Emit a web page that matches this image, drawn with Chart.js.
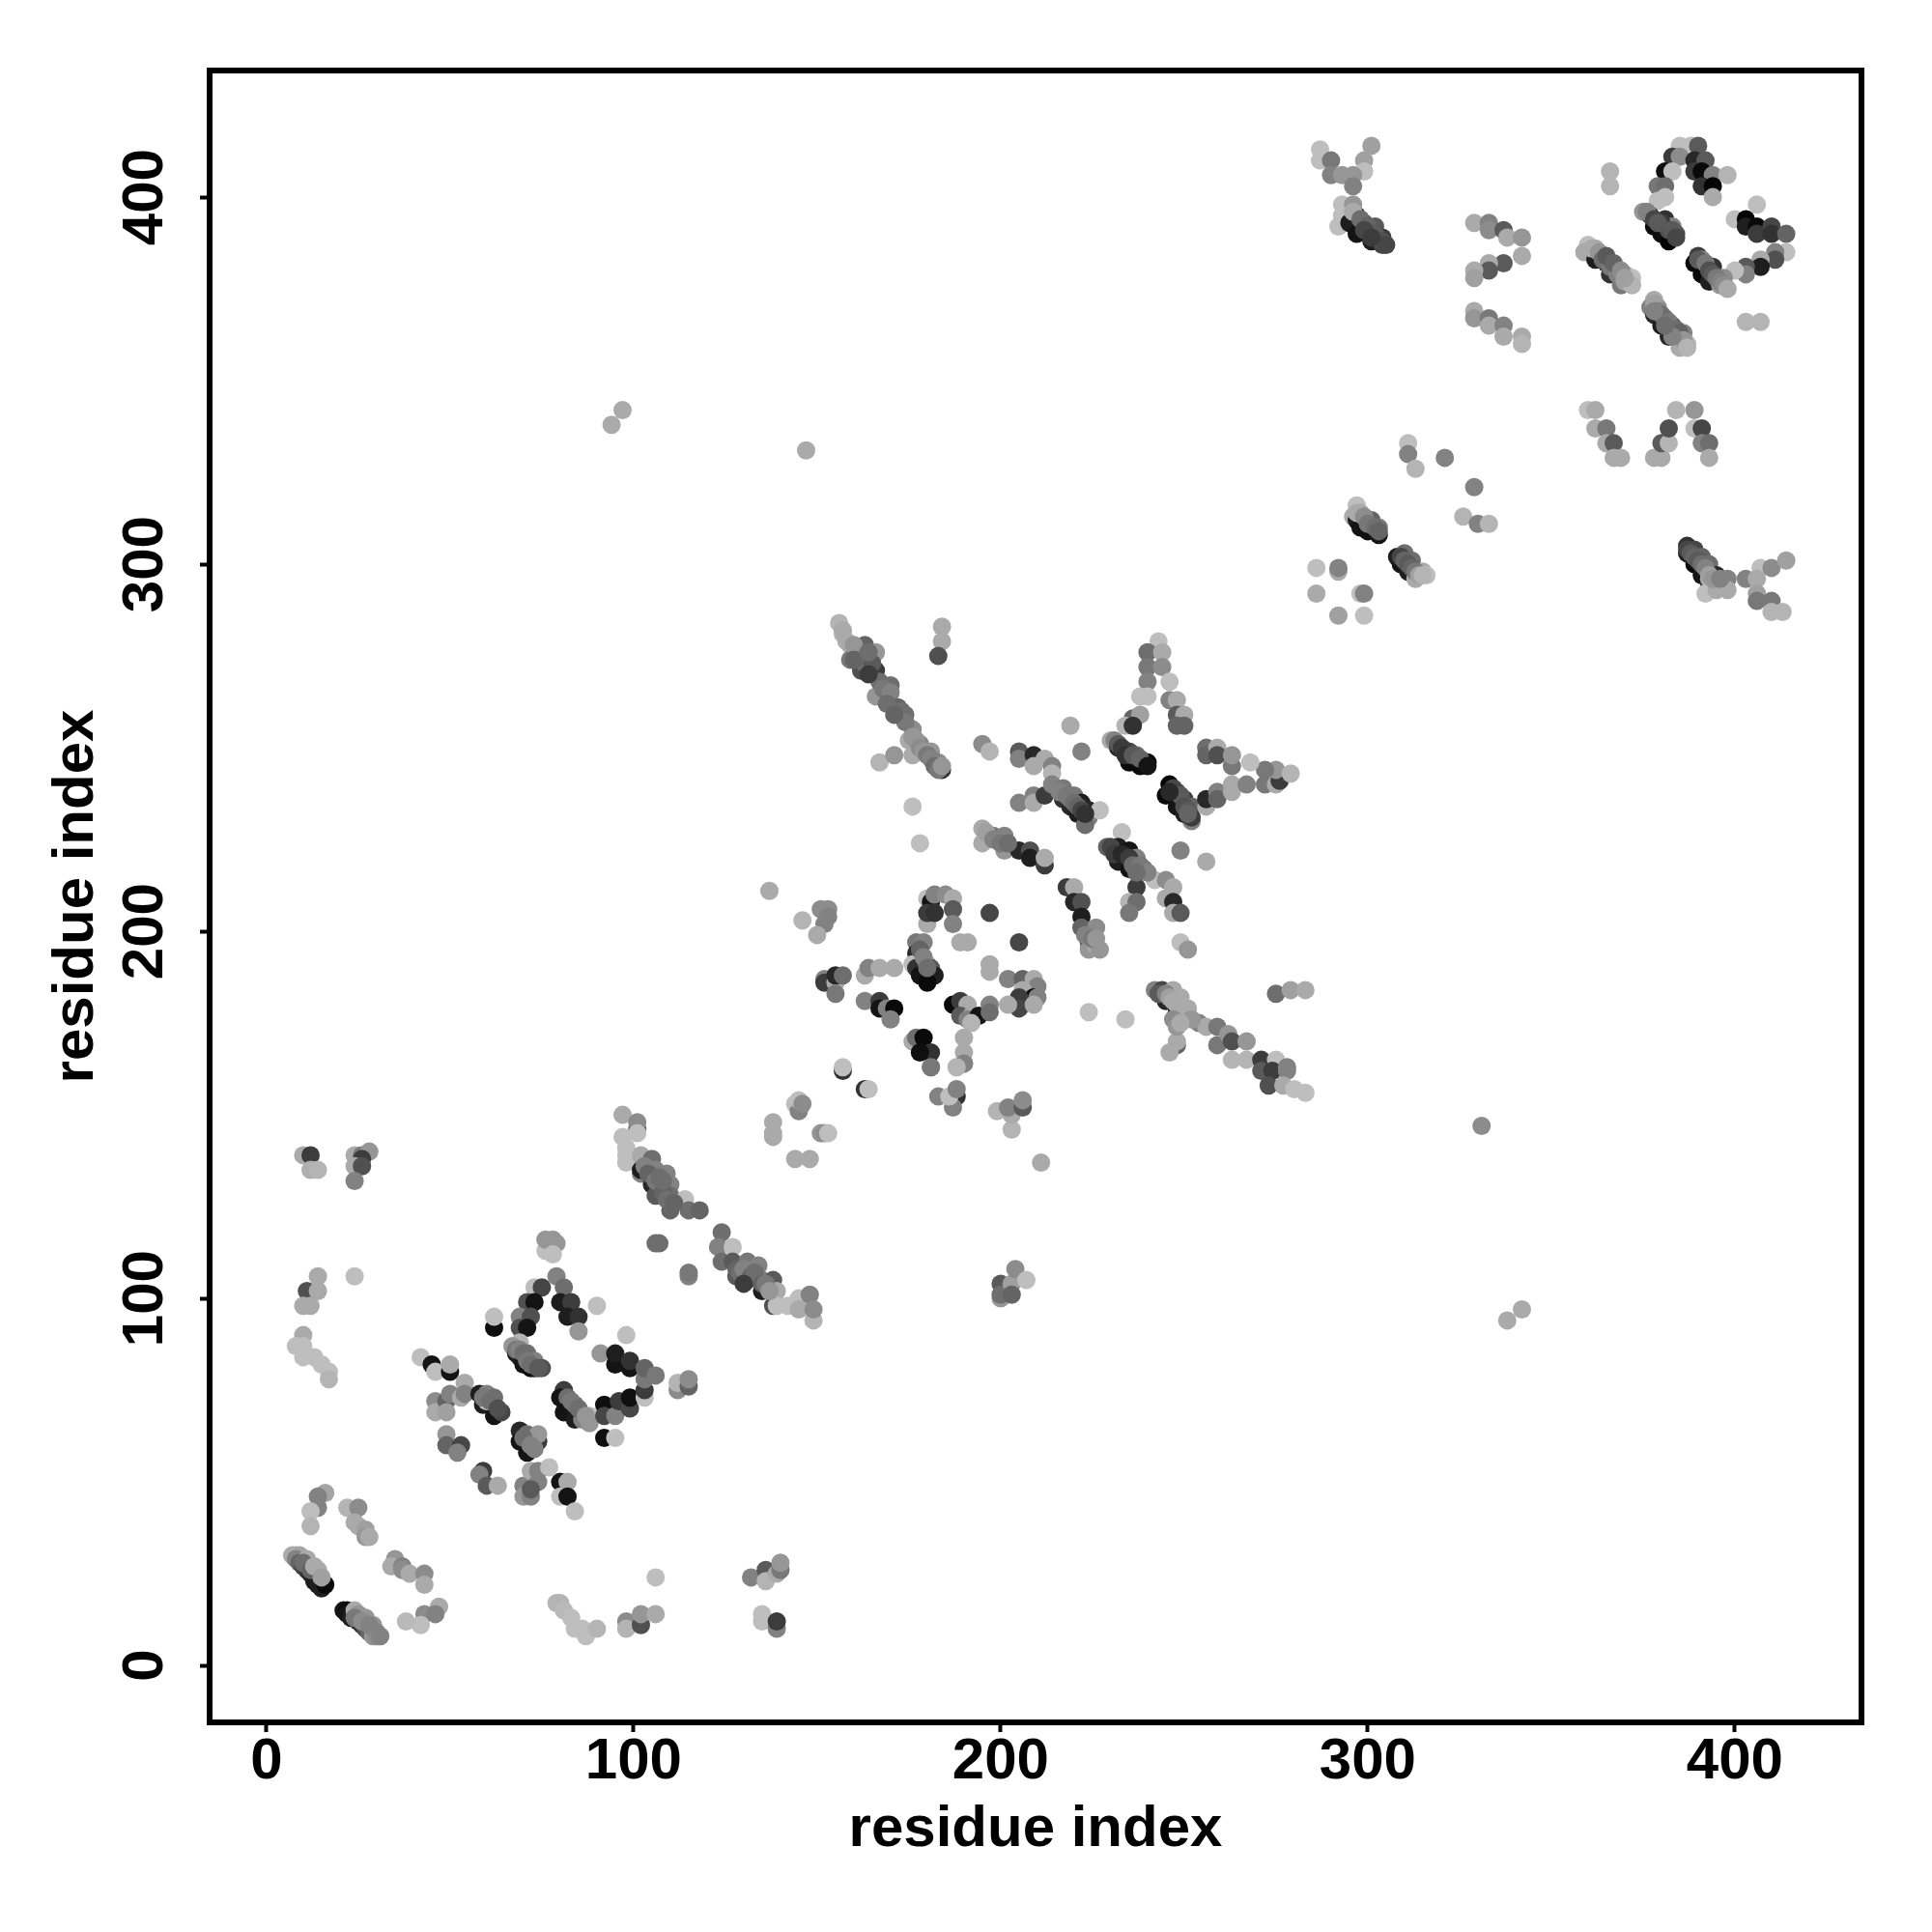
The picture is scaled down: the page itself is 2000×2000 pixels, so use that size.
<!DOCTYPE html>
<html><head><meta charset="utf-8">
<style>html,body{margin:0;padding:0;background:#fff}canvas{display:block}</style>
<script src="https://cdn.jsdelivr.net/npm/chart.js@4"></script></head>
<body><canvas id="c" width="2000" height="2000"></canvas>
<script>
// Each region lists readings as x, y, grey level
const tickValues=[0,100,200,300,400];
const axisLabel="residue index";
const nearOrigin=[7,30,170,8,30,170,9,30,165,8,29,130,9,28,100,10,27,70,11,26,60,12,25,40,13,23,30,14,22,30,15,21,30,11,29,170,14,26,170,16,22,10,
21,15,20,22,15,10,22,14,20,23,13,30,25,12,30,26,11,50,27,10,80,24,15,170,25,14,150,27,13,150,28,9,100,29,11,150,29,8,150,30,9,130,30,8,140,31,8,130];
const hairpinLow=[16,47,165,14,46,130,14,43,130,12,42,190,12,38,180,22,43,180,25,43,140,24,39,170,25,38,170,27,37,160,27,35,150,28,35,170,
35,29,150,34,27,170,37,27,130,37,26,140,39,25,170,43,25,140,43,22,170,47,16,170,43,14,140,46,14,130,42,11,190,38,12,185];
const farLow=[79,17,180,80,17,180,81,15,185,83,13,190,84,10,190,86,10,190,87,8,190,90,10,180,98,12,140,98,10,180,102,11,80,102,14,150,106,14,170,106,24,190,
132,24,130,136,26,90,136,23,180,139,25,170,140,26,120,140,28,150,135,14,190,135,12,190,139,10,130,139,12,60];
const topLeftPairs=[10,139,170,12,139,60,12,135,175,14,135,180,24,139,170,26,139,120,28,140,150,26,138,60,24,136,170,26,136,80,24,132,130,
14,106,170,24,106,190,11,102,80,14,102,170,10,98,170,12,98,170,10,90,170,8,87,190,10,87,190,10,84,190,13,84,190,15,82,190,17,80,190,17,78,180];
const squareTop=[76,113,190,76,116,150,78,116,150,79,115,150,78,112,190,79,106,130,81,103,110,73,103,190,75,103,70,80,99,30,83,99,60,82,95,30,85,95,50,85,91,150,90,98,190,98,90,190,
71,99,80,73,99,20,69,95,130,72,95,80,69,92,80,71,92,20,62,92,15,62,95,190,69,88,180];
const squareMid=[67,87,150,68,85,30,69,84,30,70,82,20,72,81,10,73,81,20,71,85,110,73,83,130,75,81,80,
42,84,190,45,82,20,46,80,190,50,80,20,50,82,170,46,72,140,46,69,170,49,72,100,49,69,160,50,74,130,53,73,170,54,77,170,54,74,130,
58,74,30,60,74,130,59,71,30,62,73,110,62,68,20,64,69,70,60,72,190];
const squareLow=[49,63,150,49,60,100,53,60,70,52,58,130,69,64,40,71,63,110,69,61,20,71,58,20,74,61,60,74,63,150,72,60,170,
59,53,60,58,52,130,60,49,90,63,49,170,70,49,130,72,53,170,74,53,130,77,54,190,74,50,130,70,46,150,72,46,130,72,48,90,80,50,20,82,50,170,80,46,190,82,46,20,84,42,190];
const squareRight=[81,75,60,80,73,20,82,73,110,81,69,20,84,71,110,84,67,30,86,67,130,88,68,190,88,66,150,92,71,15,92,68,70,95,68,130,96,72,60,99,70,70,99,73,15,103,73,190,103,75,60,92,62,15,95,62,190,
91,85,150,95,82,20,95,85,30,99,81,20,99,83,50,103,78,120,103,81,100,106,79,120,112,75,140,112,77,180,115,76,100,115,78,140];
const bandUpper=[97,150,170,101,146,100,101,148,140,97,144,190,101,145,190,98,141,190,98,139,190,98,137,190,102,139,170,102,134,130,102,135,30,105,138,110,106,135,130,105,131,40,107,131,20,106,128,90,109,134,130,110,131,130,110,128,110,114,127,190,110,124,100,115,124,110,118,124,100,
106,115,110,107,115,110,115,106,130,115,107,120];
const bandLower=[124,118,110,123,114,130,127,114,190,124,110,110,128,106,90,127,110,90,131,105,50,131,110,120,134,109,130,135,102,30,135,105,130,138,105,90,138,98,80,139,102,170,139,98,190,142,98,190,145,100,190,145,97,170,148,101,130,149,94,180,149,97,140,
200,100,150,200,104,90,200,101,110,203,104,160,203,101,100,204,108,140,207,105,190,211,137,170];
const sideClusterA=[138,148,170,138,145,170,138,144,170,144,153,190,145,151,130,145,154,190,146,153,140,144,138,170,148,138,170,151,145,150,152,145,140,153,145,190,157,162,50,157,163,190,163,157,50,164,157,190,137,211,170,
181,163,130,183,155,130,188,155,50,187,152,130,186,155,190,188,157,130,188,163,190,190,164,130,199,151,180,203,146,180,203,150,170,202,152,130,206,152,90,206,154,140];
const starLeft=[146,203,180,151,206,140,153,206,140,153,204,130,152,202,130,150,199,170,152,187,130,152,186,60,155,186,170,155,188,40,157,188,110,155,183,120,
163,188,170,164,190,130,167,190,170,171,190,170,163,181,130,167,181,60,167,179,20,169,179,130,171,179,10,170,176,130,178,224,190,176,234,190];
const starMiddle=[180,202,170,180,209,190,181,208,20,182,210,130,185,210,140,187,209,170,180,205,60,182,205,50,187,206,90,187,202,130,197,205,70,205,197,70,189,197,170,191,197,170,197,191,170,197,189,170,
177,197,120,179,197,130,177,194,40,176,191,190,177,190,50,180,191,170,181,190,90,178,188,20,182,188,30,180,186,10];
const starRight=[202,187,130,206,187,100,209,187,170,210,185,130,206,184,170,209,182,10,210,182,130,205,182,60,205,179,70,202,180,170,209,180,170,187,180,10,189,181,60,191,180,170,189,177,90,192,177,170,191,176,130,194,177,20,192,175,180,197,180,130,197,178,110,
176,170,170,177,171,110,179,171,10,181,167,50,178,167,15,181,163,120,190,171,170,190,167,170,190,164,130,188,163,180];
const stripA=[195,228,170,195,224,170,198,226,120,201,226,130,201,222,150,205,222,40,208,222,80,208,220,30,212,218,60,212,220,170,218,212,60,220,212,170,220,208,40,222,208,80,222,204,30,222,201,100,226,201,140,224,197,90,224,195,150,226,196,170,227,195,150];
const stripB=[229,223,100,233,227,190,232,223,30,235,222,20,232,219,30,237,220,130,235,217,20,239,217,110,242,214,190,245,214,140,247,212,170,237,212,60,235,208,180,237,208,110,235,205,120,245,209,170,247,208,40,247,205,170,249,205,90,249,197,190,251,195,150,249,222,130,256,219,170,219,256,170,222,249,130,195,251,140,197,249,180];
const starBig=[243,279,190,240,276,110,244,276,170,240,272,120,244,272,140,240,268,130,246,268,190,238,264,190,240,264,190,236,258,100,238,259,160,246,263,130,248,263,170,248,259,90,250,259,170,248,256,100,250,256,100,234,256,180,236,256,50,
230,252,170,231,252,130,232,250,40,235,249,70,237,248,110,235,246,10,238,245,10,240,246,5,246,240,5,248,238,80,245,237,10,250,236,60,248,234,20,252,234,100,252,230,130,250,232,30,252,231,60];
const starBigArms=[256,234,170,256,236,40,259,238,130,259,236,100,263,240,170,263,238,170,267,240,130,272,240,120,275,240,170,276,241,60,275,244,150,272,244,120,279,243,180,
256,250,110,256,248,100,259,250,170,259,248,80,263,245,120,263,248,150,268,246,190,
205,249,90,205,247,130,209,248,40,209,245,170,212,247,170,214,245,130,214,243,180,205,235,130,209,237,130,209,235,170,212,237,60,214,240,130,217,239,120,217,236,50,219,234,40,220,237,120,222,235,30,221,232,30,224,233,40,224,231,130,223,229,110,227,233,190];
const stripC=[242,184,130,244,184,70,245,181,40,247,184,170,249,182,170,248,178,30,251,179,170,248,175,180,248,169,100,248,170,170,246,167,170,254,175,130,256,174,170,259,174,120,259,169,120,262,172,150,263,170,80,267,170,150,263,165,180,267,165,180,271,165,60,271,162,90,275,165,190,274,162,60,278,163,130,278,162,130,273,158,80,277,158,170,280,157,190,283,156,190,275,183,110,279,184,160,283,184,170,224,178,190,234,176,190];
const stripD=[156,284,180,157,281,180,159,278,170,163,278,100,159,274,120,162,271,80,166,271,60,166,276,150,166,264,150,170,267,110,170,262,90,174,259,110,176,255,140,175,252,170,178,251,130,181,249,150,184,244,50,183,246,140,167,246,180,171,248,150,176,248,170,184,283,170,184,279,170,183,275,80];
const isolated=[147,331,170,94,338,170,97,342,170,331,147,140,338,94,170,342,97,170];
const hexSmall=[286,299,190,292,298,170,292,299,130,286,292,170,298,292,190,299,292,130,292,286,160,299,286,190];
const stripE=[297,316,190,298,314,170,296,313,170,297,312,30,299,312,130,301,312,100,298,310,20,300,309,15,303,310,120,303,308,20,
308,302,30,310,303,110,312,301,110,309,300,20,311,298,30,315,298,170,316,297,190,313,296,170,311,333,190,311,330,130,313,326,180,321,329,130,329,321,130,326,313,180,330,311,130,333,311,180];
const forkTop=[287,413,190,287,410,190,290,410,120,301,414,160,299,410,160,299,407,190,290,406,130,293,406,150,296,406,150,296,403,130,
293,398,190,296,398,150,292,392,190,293,395,190,297,395,40,298,394,170,295,393,30,297,390,20,299,393,100,302,392,90,301,388,30,302,390,50,304,389,60,304,387,70];
const chevrons=[329,393,170,333,393,130,333,391,140,337,391,90,338,389,170,342,389,150,342,384,170,337,382,90,333,382,170,333,380,90,329,380,170,329,378,160,
329,369,170,329,367,150,333,367,120,333,365,170,337,365,130,337,362,170,342,362,170,342,360,180,366,407,180,366,403,180];
const stripF=[360,387,190,362,386,170,359,385,170,363,384,120,364,384,70,362,383,30,365,382,30,366,382,100,368,380,150,366,379,50,370,379,170,372,378,190,369,376,120,
378,372,170,377,370,130,379,370,140,378,368,40,381,367,130,380,365,30,383,365,80,382,362,40,386,363,130,387,360,180,385,359,170];
const ringTop=[385,414,190,388,414,190,390,414,90,383,411,60,385,411,140,389,410,40,392,410,90,381,407,15,383,407,190,389,407,60,391,407,10,394,406,130,398,406,180,379,403,120,381,403,110,391,403,50,394,403,5,394,400,170,379,399,190,381,400,190,
375,396,150,377,395,60,381,394,50,378,392,10,383,392,130,380,390,15,384,390,80,382,388,5];
const ringRight=[406,398,190,400,394,190,403,394,5,403,392,30,406,392,10,406,390,60,410,392,70,410,390,50,414,390,100,414,385,190,411,385,130,411,383,80,407,383,170,407,381,30,403,381,90,403,379,130,400,380,190,
390,384,60,391,383,130,389,382,10,394,381,50,391,379,10,396,378,110,393,377,30,397,378,140,396,376,150,403,366,180,407,366,180];
const vPair=[360,342,190,362,342,170,362,337,170,365,337,120,365,333,170,367,333,90,367,329,170,369,329,170,378,329,170,380,329,170,380,333,90,382,333,180,382,337,80,384,342,180,389,342,150,389,337,190,391,337,70,391,333,130,393,333,110,393,329,170];
const stripG=[387,305,50,389,304,70,387,303,30,391,302,100,389,300,10,393,300,110,391,297,20,393,295,30,393,296,170,395,297,40,398,296,130,398,293,170,392,292,190,395,293,170,
403,296,130,407,299,190,410,299,140,414,301,160,406,296,170,406,292,160,406,290,120,410,290,120,410,287,180,413,287,180];
// Lighter contacts that lie over the dark runs of each band
const overNearOrigin=[10,28,110,12,26,100,13,27,170,15,24,160,24,13,120,26,12,140,28,11,130];
const overFork=[296,396,170,298,394,110,300,392,100,302,390,90,304,388,80,305,387,70,299,391,70,301,389,60];
const overStripF=[361,386,170,363,385,150,364,383,110,366,381,120,368,379,130,370,377,160,372,376,180,365,384,90,367,382,100,369,380,140,370,378,160,
378,371,160,379,369,130,380,368,110,382,366,120,384,364,110,385,363,100,386,361,150,387,359,180,383,362,130,378,369,130,381,365,110];
const overRing=[376,396,130,378,394,70,380,393,60,382,391,80,383,391,90,384,389,70,379,393,90,390,383,90,392,382,120,393,380,80,394,379,90,395,378,120,396,377,130,397,376,140,398,375,170];
const overStripE=[297,314,170,299,313,140,300,311,120,302,310,110,303,309,100,309,302,70,310,301,100,311,300,90,312,299,100,313,298,120,314,297,160,315,297,180];
const overStripG=[387,304,70,388,303,90,389,302,100,390,301,90,391,300,110,392,299,130,393,297,160,394,296,150,396,296,130];
const overStripD=[157,282,170,158,279,170,160,278,150,161,276,150,162,274,130,163,273,110,165,273,90,167,268,110,168,266,120,170,265,130,172,261,100,173,260,110,174,257,120,176,253,150,177,252,150,178,250,140,179,249,150,180,248,120,181,247,130,182,245,110,183,244,120,184,245,150,160,274,100,164,270,60,164,276,110,169,262,110,171,259,100];
const overStar=[230,223,70,231,221,60,233,221,40,235,220,60,236,218,110,238,218,120,240,216,130,237,216,110,196,227,160,198,225,130,200,224,120,202,224,110,223,199,130,225,198,120,226,198,150,
232,251,90,233,250,60,234,248,50,236,248,90,238,247,100,240,245,20,247,239,70,249,237,90,250,234,80,251,233,90,251,232,100,246,238,40,
216,238,130,218,237,120,219,236,120,220,235,110,221,234,100,222,233,70,223,232,50];
const overStripC=[243,183,90,245,183,130,246,182,160,247,181,170,248,180,170,249,179,170,250,178,170,251,177,170,252,176,150,247,176,140,248,174,150,249,175,170];
const overBands=[103,136,130,104,134,100,106,132,120,107,133,110,108,129,100,109,127,110,111,126,100,108,132,110,128,108,100,129,107,110,130,108,130,132,106,100,133,107,110,135,104,100,136,104,120,137,102,150,130,104,60];
const overSquare=[68,86,120,69,86,130,70,85,110,71,83,120,72,82,110,74,81,90,83,72,120,85,70,110,87,68,150,59,73,120,61,72,110,63,70,80,70,62,110,72,60,130,73,59,130,178,195,100,179,193,130,180,190,110];

const regions=[nearOrigin,hairpinLow,farLow,topLeftPairs,squareTop,squareMid,squareLow,squareRight,bandUpper,bandLower,sideClusterA,starLeft,starMiddle,starRight,stripA,stripB,starBig,starBigArms,stripC,stripD,isolated,hexSmall,stripE,forkTop,chevrons,stripF,ringTop,ringRight,vPair,stripG,overNearOrigin,overFork,overStripF,overRing,overStripE,overStripG,overStripD,overStar,overStripC,overBands,overSquare];
const pts=[],cols=[];
regions.forEach(r=>{for(let i=0;i<r.length;i+=3){pts.push({x:r[i],y:r[i+1]});cols.push(`rgb(${r[i+2]},${r[i+2]},${r[i+2]})`);}});

const frame={id:'frame',afterDraw(ch){const a=ch.chartArea,c=ch.ctx;c.save();c.strokeStyle='#000';c.lineWidth=6;c.lineJoin='miter';c.strokeRect(a.left,a.top,a.right-a.left,a.bottom-a.top);c.restore();},
beforeDraw(ch){const c=ch.ctx;c.save();c.fillStyle='#fff';c.fillRect(0,0,2000,2000);c.restore();}};
const tickFont={family:'"Liberation Sans"',size:60,weight:'bold'};
const gridOpt={display:true,drawOnChartArea:false,drawTicks:true,tickLength:10,tickColor:'#000',tickWidth:4};
new Chart(document.getElementById('c'),{type:'scatter',
data:{datasets:[{data:pts,backgroundColor:cols,pointBackgroundColor:cols,pointBorderWidth:0,pointRadius:9.5,pointHoverRadius:9.5}]},
options:{responsive:false,animation:false,events:[],layout:{padding:{top:73,right:73,left:0,bottom:0}},
plugins:{legend:{display:false},tooltip:{enabled:false},title:{display:false}},
scales:{
x:{type:'linear',min:-15.5,max:434.5,border:{display:false},grid:gridOpt,
 afterFit(s){s.height=217;},
 afterBuildTicks(s){s.ticks=tickValues.map(v=>({value:v}));},
 ticks:{font:tickFont,color:'#000',padding:-5,maxRotation:0,minRotation:0,autoSkip:false,includeBounds:false},
 title:{display:true,text:axisLabel,color:'#000',font:tickFont,padding:{top:0,bottom:70}}},
y:{type:'linear',min:-15.5,max:434.5,border:{display:false},grid:gridOpt,
 afterFit(s){s.width=217;},
 afterBuildTicks(s){s.ticks=tickValues.map(v=>({value:v}));},
 ticks:{font:tickFont,color:'#000',padding:5.5,minRotation:90,maxRotation:90,autoSkip:false,includeBounds:false,crossAlign:'center'},
 title:{display:true,text:axisLabel,color:'#000',font:tickFont,padding:{top:43,bottom:0}}}
}},plugins:[frame]});
</script></body></html>
